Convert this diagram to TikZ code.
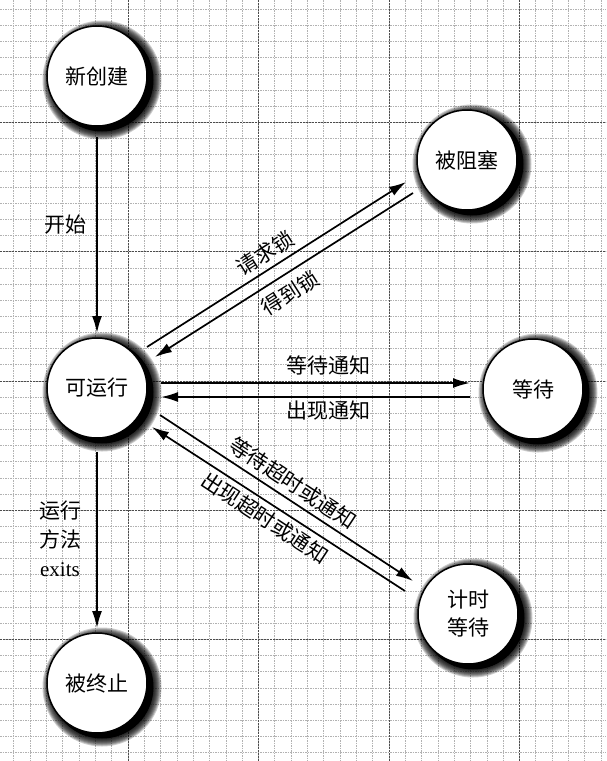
\documentclass[tikz,border=0pt]{standalone}
\usepackage{fontspec}
\setmainfont{Liberation Serif}
\newfontfamily\cjk{Noto Sans CJK SC}
\usetikzlibrary{arrows.meta,calc}
\newcommand\stateshadow[1]{%
  \fill[black] ($(#1)+(5,4)$) circle[radius=51.5pt];
  \foreach \k in {0,...,7}{\fill[black,opacity=0.2] ($(#1)+(5,4)$) circle[radius={(59.5-\k)*1pt}];}}
\begin{document}
\begin{tikzpicture}[x=1pt,y=-1pt,
  state/.style={circle,draw,line width=1.5pt,fill=white,minimum size=100pt,inner sep=0pt,
    font=\cjk\fontsize{21}{28}\selectfont,align=center},
  arr/.style={line width=1.7pt,-{Latex[length=17pt,width=10pt]}},
  lbl/.style={font=\cjk\fontsize{21}{29}\selectfont,inner sep=0pt,align=center},
  minorg/.style={gray!60,line width=0.7pt,dash pattern=on 1.5pt off 1pt},
  majorg/.style={black!70,line width=0.9pt,dash pattern=on 2pt off 1pt}]
\useasboundingbox (0,0) rectangle (606,761);
\fill[white] (0,0) rectangle (606,761);
% grid
\foreach \i in {-7,...,29} {\draw[minorg] ({128+16.3125*\i},0) -- ({128+16.3125*\i},761);}
\foreach \j in {-15,...,31} {\draw[minorg] (0,{251.7+16.156*\j}) -- (606,{251.7+16.156*\j});}
\foreach \i in {0,8,16,24} {\draw[majorg] ({128+16.3125*\i},0) -- ({128+16.3125*\i},761);}
\foreach \j in {-8,0,8,16,24} {\draw[majorg] (0,{251.7+16.156*\j}) -- (606,{251.7+16.156*\j});}
% centres
\coordinate (cnew) at (97,76);
\coordinate (cblk) at (467,160);
\coordinate (crun) at (97,388);
\coordinate (cwait) at (533,389);
\coordinate (ctimed) at (468,614);
\coordinate (cterm) at (97,683);
\stateshadow{cnew}\stateshadow{cblk}\stateshadow{crun}\stateshadow{cwait}\stateshadow{ctimed}\stateshadow{cterm}
% states
\node[state] (new) at (cnew) {新创建};
\node[state] (blk) at (cblk) {被阻塞};
\node[state] (run) at (crun) {可运行};
\node[state] (wait) at (cwait) {等待};
\node[state] (timed) at (ctimed) {计时\\等待};
\node[state] (term) at (cterm) {被终止};
% transitions
\draw[arr] ($(new)+(0,61)$) -- ($(run)+(0,-55)$);
\draw[arr] ($(run)+(50,-41)$) -- ($(blk)+(-61,22)$);
\draw[arr] ($(blk)+(-54,33)$) -- ($(run)+(58,-31)$);
\draw[arr] ($(run)+(64,-5)$) -- ($(wait)+(-63,-6)$);
\draw[arr] ($(wait)+(-63,8)$) -- ($(run)+(64,9)$);
\draw[arr] ($(run)+(63,27)$) -- ($(timed)+(-55,-33)$);
\draw[arr] ($(timed)+(-63,-23)$) -- ($(run)+(55,39)$);
\draw[arr] ($(run)+(0,64)$) -- ($(term)+(0,-55)$);
% labels
\node[lbl] (lstart) at (65,225) {开始};
\node[lbl] (lexit) at (60,539) {运行\\方法\\{\rmfamily exits}};
\node[lbl,rotate=32.5] (lreq) at (265,253) {请求锁};
\node[lbl,rotate=32.5] (lget) at (290,293) {得到锁};
\node[lbl] (lwn) at (328,365) {等待通知};
\node[lbl] (lan) at (328,411) {出现通知};
\node[lbl,rotate=-33.3] (lwt) at (293,483) {等待超时或通知};
\node[lbl,rotate=-33.3] (lat) at (265,518) {出现超时或通知};
\end{tikzpicture}
\end{document}
